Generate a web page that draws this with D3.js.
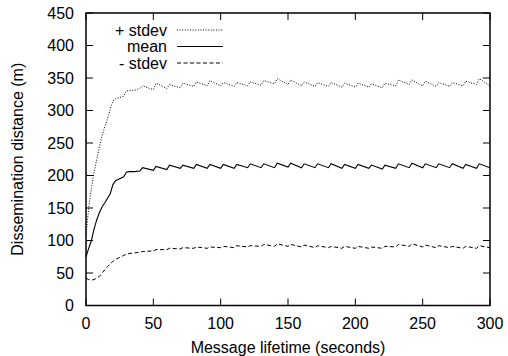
<!DOCTYPE html>
<html><head><meta charset="utf-8">
<script src="https://cdn.jsdelivr.net/npm/d3@7"></script>
<style>
body{margin:0;background:#fff;}
text{font-family:"Liberation Sans",Arial,Helvetica,sans-serif;fill:#000;}
</style></head>
<body><svg id="c" width="508" height="356"></svg>
<script>
const times = [0,2,4,6,8,10,12,14,16,18,20,22,25,28,30,32,36,40,42,50,52,60,62,70,72,80,82,90,92,100,102,110,112,120,122,130,132,140,142,150,152,160,162,170,172,180,182,190,192,200,202,210,212,220,222,230,232,240,242,250,252,260,262,270,272,280,282,290,292,300];
const plusStdev = [108,150,180,205,225,245,262,275,288,302,315,318,320,322,330,331,331,334,338,332,342,334,340,335,342,337,344,338,346,338,343,337,343,338,344,339,346,341,349,340,347,338,344,337,343,337,343,336,342,336,342,336,341,335,342,338,347,340,347,338,345,337,343,337,343,338,345,340,349,338];
const mean = [75,88,100,118,132,143,152,158,165,172,186,192,195,198,205,206,206,207,212,208,214,209,216,211,216,211,217,211,217,211,217,211,217,212,218,212,218,212,219,213,219,212,218,212,218,212,218,211,217,211,217,211,216,210,216,211,218,212,219,212,218,212,218,212,218,211,217,211,218,212];
const minusStdev = [42,40,39,40,42,45,50,55,60,64,68,71,74,77,79,80,81,82,83,84,86,86,88,87,89,88,90,88,90,89,91,89,92,90,92,91,94,91,95,91,94,90,93,89,92,89,91,88,91,88,91,88,90,88,91,90,94,91,95,90,93,89,92,89,91,88,91,88,92,89];
const seriesNames = ["+ stdev","mean","- stdev"];
const xTicks = [0,50,100,150,200,250,300];
const yTicks = [0,50,100,150,200,250,300,350,400,450];
const xTitle = "Message lifetime (seconds)";
const yTitle = "Dissemination distance (m)";

const svg = d3.select("#c");
const L=86, R=490, T=13, B=305.5;
const x = d3.scaleLinear().domain([0,300]).range([L,R]);
const y = d3.scaleLinear().domain([0,450]).range([B,T]);
const fs = 16;

const tk = 7;
const g = svg.append("g");
xTicks.forEach(v=>{
  g.append("line").attr("x1",x(v)).attr("x2",x(v)).attr("y1",B).attr("y2",B-tk).attr("stroke","#000");
  g.append("line").attr("x1",x(v)).attr("x2",x(v)).attr("y1",T).attr("y2",T+tk).attr("stroke","#000");
  g.append("text").attr("x",x(v)).attr("y",B+23).attr("text-anchor","middle").attr("font-size",fs).text(v);
});
yTicks.forEach(v=>{
  g.append("line").attr("x1",L).attr("x2",L+tk).attr("y1",y(v)).attr("y2",y(v)).attr("stroke","#000");
  g.append("line").attr("x1",R).attr("x2",R-tk).attr("y1",y(v)).attr("y2",y(v)).attr("stroke","#000");
  g.append("text").attr("x",L-12).attr("y",y(v)+5.8).attr("text-anchor","end").attr("font-size",fs).text(v);
});

const data = times.map((t,i)=>({t, p:plusStdev[i], m:mean[i], n:minusStdev[i]}));
const styles = [
  {key:"p", dash:"1,1.6", w:1},
  {key:"m", dash:null, w:1.1},
  {key:"n", dash:"4,2.5", w:1}
];
styles.forEach(s=>{
  const line = d3.line().x(d=>x(d.t)).y(d=>y(d[s.key]));
  svg.append("path").datum(data).attr("d",line).attr("fill","none").attr("stroke","#000")
    .attr("stroke-width",s.w).attr("stroke-dasharray",s.dash);
});

seriesNames.forEach((n,i)=>{
  const yy = 30 + i*16.5;
  svg.append("text").attr("x",167).attr("y",yy+5.8).attr("text-anchor","end").attr("font-size",fs).text(n);
  svg.append("line").attr("x1",177).attr("x2",223).attr("y1",yy).attr("y2",yy).attr("stroke","#000")
    .attr("stroke-width",styles[i].w).attr("stroke-dasharray",styles[i].dash);
});

svg.append("rect").attr("x",L).attr("y",T).attr("width",R-L).attr("height",B-T)
  .attr("fill","none").attr("stroke","#000").attr("stroke-width",1.5);

svg.append("text").attr("x",(L+R)/2).attr("y",352.5).attr("text-anchor","middle").attr("font-size",fs).text(xTitle);
svg.append("text").attr("transform",`translate(23,${(T+B)/2}) rotate(-90)`).attr("text-anchor","middle").attr("font-size",fs).text(yTitle);
</script></body></html>
